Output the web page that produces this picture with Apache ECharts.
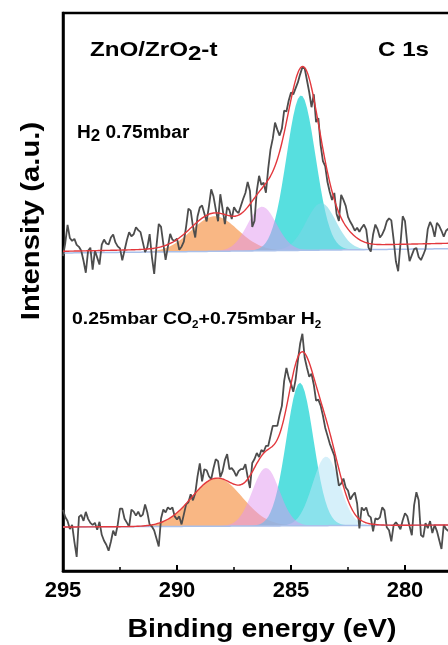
<!DOCTYPE html>
<html>
<head>
<meta charset="UTF-8">
<title>C 1s</title>
<script src="https://cdn.jsdelivr.net/npm/echarts@6/dist/echarts.min.js"></script>
<style>
  html, body { margin: 0; padding: 0; background: #fff; }
  #chart { width: 448px; height: 645px; }
</style>
</head>
<body>
<div id="chart"></div>
<script>
// energy grid of the measured spectra (eV), high -> low
var eStart = 295, eStep = 0.1, nPts = 170;

// measured counts above the background line (a.u.), one value per grid step
var topRaw = [-3, 10, 28, 15, 12, 14, 8, 6, 2, -8, -20, 2, 5, -17, 2, -5, -12, 8, 13, 9,
  8, 15, 18, 10, 6, 4, -8, 2, 12, 20, 16, 18, 25, 22, 20, 10, 0, 5, 18, -5,
  -22, 6, 28, 25, 8, -8, 5, 18, 12, 11, 13, 2, 5, 10, 25, 43, 41, 25, 14, 35,
  44, 46, 38, 30, 45, 62, 55, 42, 30, 57, 42, 27, 44, 41, 32, 44, 40, 38, 45, 52,
  58, 69, 60, 24, 30, 60, 75, 66, 68, 58, 82, 101, 112, 128, 121, 115, 122, 140, 139, 150,
  158, 156, 162, 168, 176, 183, 182, 170, 158, 143, 156, 128, 132, 105, 89, 84, 68, 58, 50, 57,
  36, 29, 55, 50, 44, 33, 28, 24, 19, 22, 18, 22, 25, 20, 2, -2, 15, 25, 20, 12,
  15, 20, 28, 31, 29, 10, -12, -22, 5, 33, 28, 5, -12, -6, 0, 1, -8, -11, -6, 0,
  20, 27, 22, 12, 26, 23, 18, 12, 18, 20];

var bottomRaw = [17, 10, 6, -2, 2, -15, -30, 10, 12, 6, 15, 8, 4, 2, 4, -3, 5, -8, -14, -18,
  -24, -15, -4, -9, 2, 18, 18, 8, 4, 0, 17, 15, 11, 15, 10, 12, 22, 14, 2, 0,
  -4, -12, -20, 8, 17, 14, 19, 17, 19, 10, 7, 10, 2, 12, 22, 24, 32, 26, 33, 50,
  63, 45, 57, 56, 50, 47, 58, 67, 65, 49, 55, 66, 72, 57, 58, 55, 50, 55, 57, 57,
  62, 49, 38, 63, 67, 73, 69, 76, 74, 80, 80, 90, 100, 100, 100, 111, 120, 145, 158, 148,
  142, 134, 146, 165, 182, 192, 168, 158, 149, 152, 141, 125, 126, 120, 110, 98, 90, 82, 76, 70,
  55, 40, 42, 47, 38, 35, 26, 30, 33, 22, -3, 18, 15, 18, 10, 8, -6, 7, 6, 8,
  18, 15, -2, -5, -16, 0, 3, 0, -4, 5, 12, 9, -1, -10, 20, 33, 25, -10, -12, 2,
  -3, 4, -8, 0, -6, -15, -24, 0, -4, -6];

// background levels at 295 eV and at the right edge
var topBase = [318, 322.3];
var topFitBase = [319.7, 327.7];
var bottomBase = [44, 46];
var bottomFitBase = [44, 46];

// fitted components: centre (eV), height, FWHM (eV)
var topCenters = [288.35, 286.27, 284.56, 283.68];
var topHeights = [35, 44, 155, 47];
var topWidths = [2.4, 1.5, 1.5, 1.55];
var topHiddenCenters = [285.5, 282.5];
var topHiddenHeights = [20, 6];
var topHiddenWidths = [1.2, 1.2];

var bottomCenters = [288.25, 286.1, 284.61, 283.46];
var bottomHeights = [48, 58, 143, 69];
var bottomWidths = [2.6, 1.4, 1.4, 1.4];
var bottomHiddenCenters = [284.1];
var bottomHiddenHeights = [18];
var bottomHiddenWidths = [2.6];

var topColors = ['rgba(245,135,50,0.6)', 'rgba(225,150,240,0.5)', 'rgba(45,215,215,0.8)', 'rgba(120,215,230,0.6)'];
var bottomColors = ['rgba(245,135,50,0.6)', 'rgba(225,150,240,0.5)', 'rgba(45,215,215,0.8)', 'rgba(180,228,245,0.55)'];
var drawOrder = [0, 2, 3, 1];

var FONT = 'Arial, "Liberation Sans", sans-serif';

function energy(i) { return +(eStart - i * eStep).toFixed(2); }
function lin(b, E) { return b[0] + (b[1] - b[0]) * (eStart - E) / (eStart - energy(nPts - 1)); }
function gauss(E, c, h, w) { var d = (E - c) / w; return h * Math.exp(-4 * Math.LN2 * d * d); }

// one filled component, drawn as a polygon between the background and background + peak
function peakFill(basePts, comp, color) {
  return {
    type: 'custom', coordinateSystem: 'cartesian2d', silent: true, z: 1,
    data: [[basePts[0][0], basePts[0][1]]],
    renderItem: function (params, api) {
      var pts = [];
      for (var i = 0; i < basePts.length; i++) pts.push(api.coord([basePts[i][0], basePts[i][1] + comp[i]]));
      for (var j = basePts.length - 1; j >= 0; j--) pts.push(api.coord(basePts[j]));
      return { type: 'polygon', shape: { points: pts }, style: { fill: color } };
    }
  };
}

function addSpectrum(series, raw, base, fitBase, cs, hs, ws, hc, hh, hw, colors) {
  var basePts = [], rawPts = [], fitPts = [], comps = [[], [], [], []];
  for (var i = 0; i < nPts; i++) {
    var E = energy(i);
    var b = lin(base, E);
    basePts.push([E, b]);
    rawPts.push([E, b + raw[i]]);
    var sum = 0;
    for (var k = 0; k < cs.length; k++) {
      var g = gauss(E, cs[k], hs[k], ws[k]);
      comps[k].push(g);
      sum += g;
    }
    for (var j = 0; j < hc.length; j++) sum += gauss(E, hc[j], hh[j], hw[j]);
    fitPts.push([E, lin(fitBase, E) + sum]);
  }
  drawOrder.forEach(function (k) { series.push(peakFill(basePts, comps[k], colors[k])); });
  series.push({ type: 'line', data: basePts, symbol: 'none', silent: true, lineStyle: { color: '#a9c0ea', width: 1.5 }, z: 2 });
  series.push({ type: 'line', data: rawPts, symbol: 'none', silent: true, lineStyle: { color: '#4d4d4d', width: 1.8 }, z: 3 });
  series.push({ type: 'line', data: fitPts, symbol: 'none', silent: true, smooth: true, lineStyle: { color: '#e3383d', width: 1.4 }, z: 4 });
}

var series = [];
addSpectrum(series, topRaw, topBase, topFitBase, topCenters, topHeights, topWidths,
  topHiddenCenters, topHiddenHeights, topHiddenWidths, topColors);
addSpectrum(series, bottomRaw, bottomBase, bottomFitBase, bottomCenters, bottomHeights, bottomWidths,
  bottomHiddenCenters, bottomHiddenHeights, bottomHiddenWidths, bottomColors);

var chart = echarts.init(document.getElementById('chart'));
chart.setOption({
  animation: false,
  backgroundColor: '#fff',
  grid: { left: 63, top: 13, width: 456, height: 558, outerBoundsMode: 'none', containLabel: false,
    show: true, borderColor: '#000', borderWidth: 2.5 },
  xAxis: {
    type: 'value', min: 275, max: 295, interval: 5, inverse: true,
    axisLine: { lineStyle: { color: '#000', width: 2.5 } },
    axisTick: { inside: true, length: 6, lineStyle: { color: '#000', width: 2 } },
    minorTick: { show: true, splitNumber: 2, length: 4, lineStyle: { color: '#000', width: 1.5 } },
    splitLine: { show: false },
    axisLabel: { color: '#000', fontSize: 22, fontWeight: 'bold', fontFamily: FONT, margin: 9 }
  },
  yAxis: {
    type: 'value', min: 0, max: 558,
    axisLine: { show: true, lineStyle: { color: '#000', width: 2.5 } },
    axisTick: { show: false }, axisLabel: { show: false }, splitLine: { show: false }
  },
  series: series,
  graphic: [
    { type: 'text', x: 90, y: 52, scaleX: 1.15, style: {
      text: '{a|ZnO/ZrO}{b|2}{a|-t}', textAlign: 'left', align: 'left',
      textVerticalAlign: 'middle', verticalAlign: 'middle',
      rich: {
        a: { fontSize: 21, fontWeight: 'bold', fontFamily: FONT, fill: '#000', lineHeight: 22, verticalAlign: 'top' },
        b: { fontSize: 21, fontWeight: 'bold', fontFamily: FONT, fill: '#000', lineHeight: 25, verticalAlign: 'bottom' }
      } } },
    { type: 'text', x: 378, y: 50, scaleX: 1.15, style: {
      text: 'C 1s', fontSize: 21, fontWeight: 'bold', fontFamily: FONT, fill: '#000',
      textAlign: 'left', align: 'left', textVerticalAlign: 'middle', verticalAlign: 'middle' } },
    { type: 'text', x: 77, y: 134.5, scaleX: 1.06, style: {
      text: '{a|H}{b|2}{a| 0.75mbar}', textAlign: 'left', align: 'left',
      textVerticalAlign: 'middle', verticalAlign: 'middle',
      rich: {
        a: { fontSize: 18, fontWeight: 'bold', fontFamily: FONT, fill: '#000', lineHeight: 19, verticalAlign: 'top' },
        b: { fontSize: 16, fontWeight: 'bold', fontFamily: FONT, fill: '#000', lineHeight: 21, verticalAlign: 'bottom' }
      } } },
    { type: 'text', x: 72, y: 320.6, scaleX: 1.16, style: {
      text: '{a|0.25mbar CO}{b|2}{a|+0.75mbar H}{b|2}', textAlign: 'left', align: 'left',
      textVerticalAlign: 'middle', verticalAlign: 'middle',
      rich: {
        a: { fontSize: 16.8, fontWeight: 'bold', fontFamily: FONT, fill: '#000', lineHeight: 17, verticalAlign: 'top' },
        b: { fontSize: 10, fontWeight: 'bold', fontFamily: FONT, fill: '#000', lineHeight: 20, verticalAlign: 'bottom' }
      } } },
    { type: 'text', x: 262, y: 630, scaleX: 1.14, style: {
      text: 'Binding energy (eV)', fontSize: 25, fontWeight: 'bold', fontFamily: FONT, fill: '#000',
      textAlign: 'center', align: 'center', textVerticalAlign: 'middle', verticalAlign: 'middle' } },
    { type: 'text', x: 32, y: 221, rotation: Math.PI / 2, scaleX: 1.17, style: {
      text: 'Intensity (a.u.)', fontSize: 25, fontWeight: 'bold', fontFamily: FONT, fill: '#000',
      textAlign: 'center', align: 'center', textVerticalAlign: 'middle', verticalAlign: 'middle' } }
  ]
});
</script>
</body>
</html>
